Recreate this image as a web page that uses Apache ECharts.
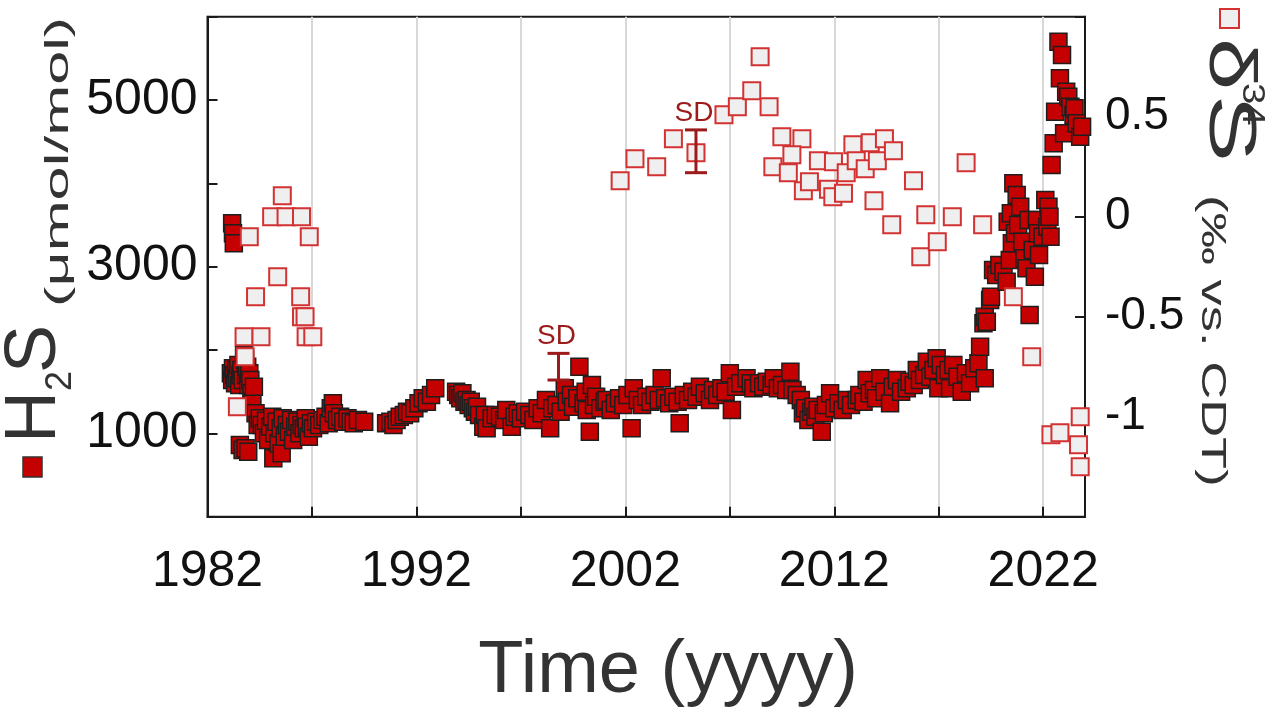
<!DOCTYPE html>
<html>
<head>
<meta charset="utf-8">
<script src="https://cdn.jsdelivr.net/npm/echarts@6/dist/echarts.min.js"></script>
<style>
  html, body { margin: 0; padding: 0; background: #ffffff; }
  #chart { width: 1277px; height: 713px; }
</style>
</head>
<body>
<div id="chart"></div>
<script>
// Labelled years on the time axis (ticks every 5 years, labels every 10)
const yearLabels = [1982, 1992, 2002, 2012, 2022];
// Labelled values on the two vertical axes
const h2sLabels = [1000, 3000, 5000];
const d34sLabels = [0.5, 0, -0.5, -1];

// H2S concentration, [year, µmol/mol]
const h2sSeries = [
  [1983.18, 3520], [1983.22, 3400], [1983.26, 3280],
  [1983.12, 1720], [1983.18, 1640], [1983.22, 1780], [1983.28, 1700], [1983.32, 1600],
  [1983.38, 1760], [1983.42, 1660], [1983.48, 1820], [1983.52, 1580], [1983.58, 1700],
  [1983.62, 1760], [1983.68, 1640], [1983.75, 1940], [1983.80, 1880], [1983.85, 1700],
  [1983.90, 1800], [1983.95, 1580], [1984.00, 1720], [1984.05, 1640], [1984.10, 1480],
  [1984.15, 1380], [1984.22, 1560],
  [1983.55, 860], [1983.68, 800], [1983.82, 820], [1983.95, 780],
  [1984.30, 1240], [1984.40, 1100], [1984.50, 1180], [1984.60, 1100], [1984.70, 1000],
  [1984.80, 1150], [1984.90, 920], [1985.00, 1080], [1985.10, 1200], [1985.15, 700],
  [1985.20, 1000], [1985.30, 1140], [1985.40, 880], [1985.50, 1060], [1985.55, 760],
  [1985.60, 1180], [1985.70, 960], [1985.80, 1100], [1985.90, 1020], [1986.00, 1160],
  [1986.10, 920], [1986.20, 1080], [1986.30, 1140], [1986.40, 1000], [1986.50, 1100],
  [1986.60, 1060], [1986.70, 1180], [1986.75, 1080], [1986.85, 960], [1986.95, 1120],
  [1987.05, 1060], [1987.20, 1140], [1987.35, 1100], [1987.50, 1160], [1987.65, 1200],
  [1987.80, 1120], [1987.90, 1300], [1988.00, 1360], [1988.05, 1240], [1988.20, 1160],
  [1988.35, 1200], [1988.50, 1140], [1988.70, 1180], [1988.85, 1140], [1989.00, 1120],
  [1989.20, 1160], [1989.50, 1140],
  [1990.55, 1120], [1990.75, 1140], [1990.90, 1100], [1991.05, 1160], [1991.20, 1200],
  [1991.40, 1220], [1991.55, 1260], [1991.70, 1240], [1991.90, 1300], [1992.10, 1360],
  [1992.30, 1420], [1992.50, 1380], [1992.70, 1460], [1992.90, 1540],
  [1993.90, 1500], [1994.00, 1460], [1994.10, 1420], [1994.20, 1480], [1994.30, 1380],
  [1994.40, 1400], [1994.50, 1340], [1994.60, 1380], [1994.70, 1300], [1994.80, 1260],
  [1994.90, 1320], [1995.00, 1220], [1995.20, 1080], [1995.28, 1220], [1995.36, 1060],
  [1995.60, 1180], [1995.80, 1220], [1996.00, 1200], [1996.20, 1160], [1996.30, 1280],
  [1996.56, 1080], [1996.70, 1200], [1996.85, 1240], [1997.00, 1180], [1997.20, 1260],
  [1997.40, 1220], [1997.60, 1160], [1997.80, 1300], [1998.00, 1240], [1998.20, 1400],
  [1998.40, 1060], [1998.50, 1300], [1998.70, 1340], [1998.90, 1260], [1999.10, 1540],
  [1999.20, 1380], [1999.40, 1460], [1999.50, 1320], [1999.70, 1420], [1999.80, 1800],
  [2000.00, 1360], [2000.10, 1500], [2000.15, 1280], [2000.30, 1020], [2000.40, 1580],
  [2000.50, 1340], [2000.60, 1440], [2000.80, 1300], [2001.00, 1380], [2001.10, 1400],
  [2001.30, 1280], [2001.50, 1360], [2001.70, 1420], [2001.90, 1340], [2002.10, 1460],
  [2002.30, 1060], [2002.40, 1540], [2002.60, 1400], [2002.80, 1340], [2003.00, 1440],
  [2003.20, 1380], [2003.40, 1460], [2003.60, 1400], [2003.74, 1660], [2003.90, 1420],
  [2004.10, 1360], [2004.30, 1440], [2004.50, 1380], [2004.60, 1120], [2004.80, 1460],
  [2005.00, 1400], [2005.20, 1500], [2005.40, 1440], [2005.57, 1560], [2005.80, 1480],
  [2006.05, 1400], [2006.20, 1520], [2006.40, 1460], [2006.60, 1540], [2006.80, 1500],
  [2007.00, 1720], [2007.10, 1280], [2007.30, 1560], [2007.50, 1600], [2007.80, 1660],
  [2008.00, 1600], [2008.13, 1540], [2008.40, 1600], [2008.60, 1560], [2008.77, 1620],
  [2009.00, 1580], [2009.10, 1660], [2009.30, 1540], [2009.50, 1580], [2009.70, 1520],
  [2009.90, 1740], [2010.00, 1520], [2010.20, 1460], [2010.40, 1400], [2010.50, 1240],
  [2010.60, 1300], [2010.76, 1160], [2010.90, 1260], [2011.00, 1320], [2011.10, 1200],
  [2011.20, 1280], [2011.40, 1020], [2011.50, 1240], [2011.60, 1340], [2011.80, 1480],
  [2012.00, 1300], [2012.20, 1360], [2012.40, 1280], [2012.60, 1400], [2012.80, 1340],
  [2013.07, 1400], [2013.20, 1460], [2013.40, 1380], [2013.55, 1640], [2013.70, 1480],
  [2013.90, 1520], [2014.00, 1420], [2014.20, 1660], [2014.40, 1500], [2014.67, 1360],
  [2014.80, 1560], [2015.00, 1640], [2015.20, 1500], [2015.47, 1540], [2015.60, 1620],
  [2015.80, 1580], [2015.95, 1760], [2016.10, 1640], [2016.30, 1700], [2016.43, 1860],
  [2016.60, 1680], [2016.75, 1760], [2016.90, 1900], [2016.98, 1540], [2017.10, 1820],
  [2017.30, 1700], [2017.46, 1760], [2017.54, 1540], [2017.70, 1820], [2017.90, 1680],
  [2018.10, 1500], [2018.30, 1720], [2018.50, 1600], [2018.70, 1780], [2018.90, 1840],
  [2018.98, 2040], [2019.20, 1660], [2019.14, 2320], [2019.20, 2400], [2019.30, 2340],
  [2019.46, 2600], [2019.50, 2640], [2019.60, 2960], [2019.75, 2900], [2019.90, 3020],
  [2020.10, 2940], [2020.25, 2820], [2020.30, 3540], [2020.40, 3080], [2020.45, 3640],
  [2020.50, 3280], [2020.57, 4000], [2020.65, 3400], [2020.73, 3860], [2020.80, 3500],
  [2020.90, 3720], [2021.00, 3300], [2021.10, 3100], [2021.20, 2980], [2021.30, 3560],
  [2021.35, 2420], [2021.50, 3200], [2021.60, 2880], [2021.70, 3560], [2021.75, 3400],
  [2021.80, 3140], [2021.97, 3360], [2022.10, 3800], [2022.20, 3480], [2022.25, 3720],
  [2022.30, 3600], [2022.35, 3360], [2022.40, 4220], [2022.50, 4480], [2022.57, 4860],
  [2022.73, 5700], [2022.80, 5260], [2022.90, 5540], [2023.00, 4600], [2023.10, 5100],
  [2023.20, 5040], [2023.30, 4920], [2023.45, 4820], [2023.50, 4900], [2023.60, 4720],
  [2023.77, 4560], [2023.86, 4680]
];

// Sulfur isotope ratio δ34S, [year, ‰ vs. CDT]
const d34sSeries = [
  [1983.43, -0.95], [1983.75, -0.60], [1983.80, -0.70], [1984.00, -0.10], [1984.30, -0.40],
  [1984.56, -0.60], [1985.07, 0.00], [1985.36, -0.30], [1985.58, 0.105], [1985.76, 0.00],
  [1986.46, -0.40], [1986.50, 0.00], [1986.50, -0.50], [1986.67, -0.50], [1986.72, -0.60],
  [1986.87, -0.10], [1987.04, -0.60],
  [2001.75, 0.18], [2002.46, 0.29], [2003.50, 0.25], [2004.30, 0.39], [2005.38, 0.32],
  [2006.72, 0.51], [2007.36, 0.55], [2008.05, 0.63], [2008.45, 0.80], [2008.88, 0.55],
  [2009.49, 0.40], [2010.45, 0.39], [2009.06, 0.25], [2009.97, 0.31], [2009.80, 0.22],
  [2010.52, 0.13], [2010.81, 0.175], [2011.24, 0.28], [2011.72, 0.137], [2011.96, 0.275],
  [2011.93, 0.10], [2012.44, 0.117], [2012.57, 0.22], [2012.89, 0.36], [2013.05, 0.28],
  [2013.48, 0.24], [2013.72, 0.37], [2014.06, 0.28], [2014.40, 0.39], [2014.83, 0.33],
  [2013.90, 0.08], [2014.75, -0.04], [2015.79, 0.18], [2016.14, -0.20], [2016.38, 0.01],
  [2016.93, -0.125], [2017.65, 0.00], [2018.31, 0.27], [2019.10, -0.04], [2020.57, -0.40],
  [2021.45, -0.70], [2022.37, -1.09], [2022.80, -1.08], [2023.69, -1.14], [2023.77, -1.00],
  [2023.77, -1.25]
];

// Standard deviation markers, [year, centre, sd]
const h2sSD = [[1998.8, 1800, 160]];
const d34sSD = [[2005.38, 0.327, 0.107]];

const FONT = '"Liberation Sans", Arial, Helvetica, sans-serif';
const INK = '#111111';
const TITLE = '#333333';
const FILL_RED = '#c40000';
const OPEN_RED = '#d23232';
const SD_RED = '#9c1a1a';

function renderSD(params, api) {
  const x = api.value(0), c = api.value(1), s = api.value(2);
  const top = api.coord([x, c + s]);
  const bot = api.coord([x, c - s]);
  const hw = 11;
  const st = { stroke: SD_RED, lineWidth: 3 };
  return {
    type: 'group',
    children: [
      { type: 'line', shape: { x1: top[0], y1: top[1], x2: bot[0], y2: bot[1] }, style: st },
      { type: 'line', shape: { x1: top[0] - hw, y1: top[1], x2: top[0] + hw, y2: top[1] }, style: st },
      { type: 'line', shape: { x1: bot[0] - hw, y1: bot[1], x2: bot[0] + hw, y2: bot[1] }, style: st },
      { type: 'text', x: top[0] - 2, y: top[1] - 3,
        style: { text: 'SD', fill: SD_RED, fontSize: 28, fontFamily: FONT, align: 'center', verticalAlign: 'bottom' } }
    ]
  };
}

const chart = echarts.init(document.getElementById('chart'), null, { renderer: 'canvas' });

const axisLine = { show: true, lineStyle: { color: '#1a1a1a', width: 2 } };
const axisTick = { show: true, inside: true, length: 10, lineStyle: { color: '#1a1a1a', width: 2 } };

chart.setOption({
  animation: false,
  backgroundColor: '#ffffff',
  grid: {
    left: 207.5, right: 192, top: 16.7, bottom: 196.3,
    show: true, borderColor: '#1a1a1a', borderWidth: 2, backgroundColor: 'transparent'
  },
  xAxis: {
    type: 'value', min: 1982, max: 2024, interval: 5,
    axisLine: axisLine, axisTick: axisTick,
    axisLabel: {
      fontSize: 50, fontFamily: FONT, color: INK, margin: 31,
      formatter: v => (yearLabels.indexOf(Math.round(v)) >= 0 ? String(Math.round(v)) : '')
    },
    splitLine: { show: true, lineStyle: { color: '#d8d8d8', width: 2 } }
  },
  yAxis: [
    {
      type: 'value', min: 0, max: 6000, interval: 1000, position: 'left',
      axisLine: axisLine, axisTick: axisTick,
      axisLabel: {
        fontSize: 50, fontFamily: FONT, color: INK, margin: 10,
        formatter: v => (h2sLabels.indexOf(Math.round(v)) >= 0 ? String(Math.round(v)) : '')
      },
      splitLine: { show: false }
    },
    {
      type: 'value', min: -1.5, max: 1, interval: 0.5, position: 'right',
      axisLine: axisLine, axisTick: axisTick,
      axisLabel: {
        fontSize: 46, fontFamily: FONT, color: INK, margin: 20,
        formatter: v => {
          const r = Math.round(v * 10) / 10;
          return d34sLabels.indexOf(r) >= 0 ? String(r) : '';
        }
      },
      splitLine: { show: false }
    }
  ],
  series: [
    {
      name: 'H2S', type: 'scatter', yAxisIndex: 0, data: h2sSeries,
      symbol: 'rect', symbolSize: 17,
      itemStyle: { color: FILL_RED, borderColor: '#1e1e1e', borderWidth: 1.5, opacity: 1 },
      emphasis: { disabled: true }, silent: true
    },
    {
      name: 'd34S', type: 'scatter', yAxisIndex: 1, data: d34sSeries,
      symbol: 'rect', symbolSize: 17,
      itemStyle: { color: '#efefef', borderColor: OPEN_RED, borderWidth: 2, opacity: 1 },
      emphasis: { disabled: true }, silent: true
    },
    { type: 'custom', yAxisIndex: 0, data: h2sSD, renderItem: renderSD, silent: true, z: 5 },
    { type: 'custom', yAxisIndex: 1, data: d34sSD, renderItem: renderSD, silent: true, z: 5 }
  ],
  graphic: [
    // time axis title
    { type: 'text', x: 668, y: 672,
      style: { text: 'Time (yyyy)', fontSize: 74, fontFamily: FONT, fill: TITLE, align: 'center', verticalAlign: 'middle' } },
    // left axis title, reading bottom to top
    { type: 'group', x: 35, y: 443, rotation: Math.PI / 2,
      children: [
        { type: 'text', x: 0, y: 0, style: { text: 'H', fontSize: 72, fontFamily: FONT, fill: TITLE, align: 'left', verticalAlign: 'middle' } },
        { type: 'text', x: 52, y: 26, style: { text: '2', fontSize: 36, fontFamily: FONT, fill: TITLE, align: 'left', verticalAlign: 'middle' } },
        { type: 'text', x: 70, y: 0, style: { text: 'S', fontSize: 72, fontFamily: FONT, fill: TITLE, align: 'left', verticalAlign: 'middle' } },
        { type: 'text', x: 136, y: 24, scaleX: 1.8, style: { text: '(μmol/mol)', fontSize: 34, fontFamily: FONT, fill: TITLE, align: 'left', verticalAlign: 'middle' } }
      ] },
    { type: 'rect', shape: { x: 23, y: 457, width: 19, height: 20 },
      style: { fill: FILL_RED, stroke: '#333333', lineWidth: 1.5 } },
    // right axis title, reading top to bottom
    { type: 'group', x: 1228, y: 38, rotation: -Math.PI / 2,
      children: [
        { type: 'text', x: 0, y: 0, scaleX: 1.4, style: { text: 'δ', fontSize: 67, fontFamily: FONT, fill: TITLE, align: 'left', verticalAlign: 'middle' } },
        { type: 'text', x: 45, y: -24, scaleX: 1.2, style: { text: '34', fontSize: 32, fontFamily: FONT, fill: TITLE, align: 'left', verticalAlign: 'middle' } },
        { type: 'text', x: 57, y: 0, scaleX: 1.5, style: { text: 'S', fontSize: 67, fontFamily: FONT, fill: TITLE, align: 'left', verticalAlign: 'middle' } },
        { type: 'text', x: 157, y: 16, scaleX: 1.5, style: { text: '(‰ vs. CDT)', fontSize: 35, fontFamily: FONT, fill: TITLE, align: 'left', verticalAlign: 'middle' } }
      ] },
    { type: 'rect', shape: { x: 1220, y: 9, width: 19, height: 19 },
      style: { fill: '#efefef', stroke: OPEN_RED, lineWidth: 2 } }
  ]
});
</script>
</body>
</html>
